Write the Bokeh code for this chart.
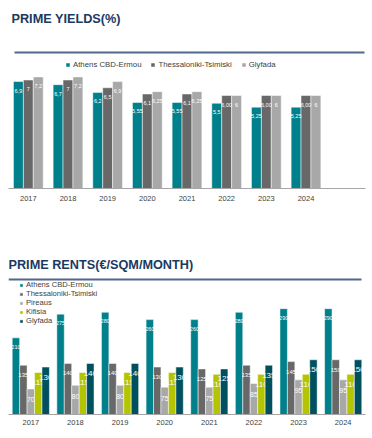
from bokeh.plotting import figure
from bokeh.models import (FactorRange, Range1d, ColumnDataSource, Legend, LegendItem,
                          Label, BoxAnnotation)
from bokeh.transform import dodge
from bokeh.layouts import column
from bokeh.embed import file_html
from bokeh.resources import INLINE
from bokeh.core.properties import value

# ---------------- data ----------------
years = ["2017", "2018", "2019", "2020", "2021", "2022", "2023", "2024"]

yield_athens = [6.9, 6.7, 6.2, 5.55, 5.55, 5.5, 5.25, 5.25]
yield_thess = [7.0, 7.0, 6.5, 6.1, 6.1, 6.0, 6.0, 6.0]
yield_glyfada = [7.2, 7.2, 6.9, 6.25, 6.25, 6.0, 6.0, 6.0]
yield_athens_lab = ["6,9", "6,7", "6,2", "5,55", "5,55", "5,5", "5,25", "5,25"]
yield_thess_lab = ["7", "7", "6,5", "6,1", "6,1", "6,00", "6,00", "6,00"]
yield_glyfada_lab = ["7,2", "7,2", "6,9", "6,25", "6,25", "6", "6", "6"]

rent_athens = [210, 275, 280, 260, 260, 280, 290, 290]
rent_thess = [135, 140, 140, 130, 125, 135, 145, 150]
rent_pireaus = [70, 80, 80, 75, 75, 85, 95, 95]
rent_kifisia = [115, 115, 115, 115, 110, 110, 110, 110]
rent_glyfada = [130, 140, 140, 130, 125, 135, 150, 150]

# ---------------- styles ----------------
FONT = "Liberation Sans"
TEAL = "#00808B"
DGRAY = "#686868"
LGRAY = "#A8A8A8"
LIME = "#B4C400"
DTEAL = "#00505E"
NAVY = "#1B3A62"
RULE = "#50698A"
TXT = "#404040"


def style_common(p):
    p.xgrid.visible = False
    p.ygrid.visible = False
    p.outline_line_color = None
    ax = p.xaxis[0]
    ax.axis_line_color = "#A6A6A6"
    ax.axis_line_width = 1
    ax.major_tick_line_color = None
    ax.major_tick_out = 0
    ax.major_tick_in = 0
    ax.minor_tick_line_color = None
    ax.major_label_text_font = FONT
    ax.major_label_text_font_size = "7.5px"
    ax.major_label_text_color = TXT
    ax.major_label_standoff = 5


def add_header(p, text, tx, ty, rl, rr, rb):
    p.add_layout(Label(x=tx, y=ty, x_units="screen", y_units="screen", text=text,
                       text_font=FONT, text_font_size="12.7px", text_font_style="bold",
                       text_color=NAVY, text_baseline="middle", text_align="left"))
    p.add_layout(BoxAnnotation(left=rl, right=rr, bottom=rb, top=rb + 2,
                               left_units="screen", right_units="screen",
                               bottom_units="screen", top_units="screen",
                               fill_color=RULE, fill_alpha=1.0, line_color=None))


# ---------------- chart 1: prime yields ----------------
src1 = ColumnDataSource(dict(year=years, athens=yield_athens, thess=yield_thess,
                             glyfada=yield_glyfada, la=yield_athens_lab,
                             lt=yield_thess_lab, lg=yield_glyfada_lab))

p1 = figure(width=372, height=214, x_range=FactorRange(*(years + [" "])),
            y_range=Range1d(0, 12.13), output_backend="svg", toolbar_location=None,
            y_axis_location=None, min_border_left=5, min_border_right=7,
            min_border_top=0, min_border_bottom=26)
style_common(p1)
add_header(p1, "PRIME YIELDS(%)", 3, 170, 6, 356, 135)

w1 = 0.25
r_a = p1.vbar(x=dodge("year", -w1, range=p1.x_range), top="athens", width=w1, source=src1,
              fill_color=TEAL, line_color="white", line_width=0.5)
r_t = p1.vbar(x=dodge("year", 0, range=p1.x_range), top="thess", width=w1, source=src1,
              fill_color=DGRAY, line_color="white", line_width=0.5)
r_g = p1.vbar(x=dodge("year", w1, range=p1.x_range), top="glyfada", width=w1, source=src1,
              fill_color=LGRAY, line_color="white", line_width=0.5)
for off, col, lab in [(-w1, "athens", "la"), (0, "thess", "lt"), (w1, "glyfada", "lg")]:
    p1.text(x=dodge("year", off, range=p1.x_range), y=col, text=lab, source=src1,
            text_font=value(FONT), text_font_size="5.5px", text_color="white",
            text_align="center", text_baseline="middle", y_offset=9)

leg1 = Legend(items=[LegendItem(label="Athens CBD-Ermou", renderers=[r_a]),
                     LegendItem(label="Thessaloniki-Tsimiski", renderers=[r_t]),
                     LegendItem(label="Glyfada", renderers=[r_g])],
              location=(57, 119), orientation="horizontal",
              glyph_width=5, glyph_height=5, label_height=8, label_width=10,
              label_standoff=3, spacing=9, padding=0, margin=0,
              border_line_color=None, background_fill_alpha=0,
              label_text_font=FONT, label_text_font_size="7.8px", label_text_color=TXT)
p1.add_layout(leg1)

# ---------------- chart 2: prime rents ----------------
src2 = ColumnDataSource(dict(year=years, athens=rent_athens, thess=rent_thess,
                             pireaus=rent_pireaus, kifisia=rent_kifisia,
                             glyfada=rent_glyfada))

p2 = figure(width=372, height=224, x_range=FactorRange(*years),
            y_range=Range1d(0, 548), output_backend="svg", toolbar_location=None,
            y_axis_location=None, min_border_left=8, min_border_right=4,
            min_border_top=0, min_border_bottom=24)
style_common(p2)
add_header(p2, "PRIME RENTS(\u20ac/SQM/MONTH)", 0, 149.5, 0, 353, 134)

w2 = 0.1667
series = [("athens", TEAL, "Athens CBD-Ermou", "5.5px", 9),
          ("thess", DGRAY, "Thessaloniki-Tsimiski", "6px", 10),
          ("pireaus", LGRAY, "Pireaus", "7px", 11),
          ("kifisia", LIME, "Kifisia", "8px", 10),
          ("glyfada", DTEAL, "Glyfada", "8px", 10)]
items = []
for i, (col, color, name, fs, yo) in enumerate(series):
    off = (i - 2) * w2
    r = p2.vbar(x=dodge("year", off, range=p2.x_range), top=col, width=w2, source=src2,
                fill_color=color, line_color="white", line_width=0.5)
    p2.text(x=dodge("year", off, range=p2.x_range), y=col, text=col, source=src2,
            text_font=value(FONT), text_font_size=fs, text_color="white",
            text_align="center", text_baseline="middle", y_offset=yo)
    items.append(LegendItem(label=name, renderers=[r]))

leg2 = Legend(items=items, location=(11, 89), orientation="vertical",
              glyph_width=4, glyph_height=4, label_height=8, label_width=10,
              label_standoff=3, spacing=-1, padding=0, margin=0,
              border_line_color=None, background_fill_alpha=0,
              label_text_font=FONT, label_text_font_size="7.6px", label_text_color=TXT)
p2.add_layout(leg2)

layout = column(p1, p2, spacing=0)
open("out.html", "w").write(file_html(layout, INLINE))
